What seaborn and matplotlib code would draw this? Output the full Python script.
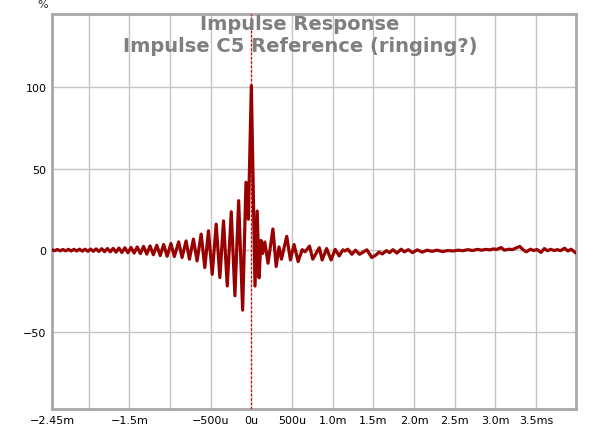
import numpy as np
import pandas as pd
import matplotlib
matplotlib.use('Agg')
import matplotlib.pyplot as plt
import seaborn as sns

# peaks / troughs (time in ms, level in %)
pre_time = [-2.450, -2.418, -2.384, -2.350, -2.316, -2.282, -2.248, -2.214, -2.180, -2.146,
            -2.112, -2.078, -2.044, -2.010, -1.976, -1.942, -1.908, -1.874, -1.839, -1.804,
            -1.769, -1.734, -1.699, -1.663, -1.627, -1.591, -1.554, -1.517, -1.479, -1.441,
            -1.403, -1.364, -1.325, -1.285, -1.245, -1.204, -1.162, -1.120, -1.078, -1.035,
            -0.988, -0.947, -0.893, -0.852, -0.802, -0.761, -0.712, -0.667, -0.617, -0.572,
            -0.527, -0.481, -0.432, -0.387, -0.342, -0.296, -0.247, -0.202, -0.156, -0.107,
            -0.066, -0.037]
pre_level = [0.2, -0.3, 0.4, -0.4, 0.4, -0.4, 0.5, -0.5, 0.5, -0.5,
             0.6, -0.6, 0.6, -0.7, 0.7, -0.7, 0.8, -0.8, 0.9, -0.9,
             1.0, -1.0, 1.1, -1.2, 1.3, -1.4, 1.5, -1.6, 1.7, -1.8,
             2.0, -2.1, 2.3, -2.4, 2.6, -2.8, 3.0, -3.3, 3.5, -3.7,
             4.1, -3.9, 5.1, -4.5, 5.7, -5.5, 6.8, -6.6, 9.9, -10.7,
             11.9, -14.8, 16.0, -16.8, 18.0, -22.0, 23.6, -28.0, 30.4, -36.8,
             41.7, 19.0]

peak_time = [0.0]
peak_level = [101.0]

post_time = [0.045, 0.072, 0.095, 0.118, 0.138, 0.165, 0.205, 0.265, 0.305, 0.340,
             0.370, 0.435, 0.480, 0.525, 0.575, 0.625, 0.660, 0.715, 0.755, 0.835,
             0.870, 0.925, 0.980, 1.030, 1.080, 1.125, 1.150, 1.185, 1.235, 1.280,
             1.330, 1.420, 1.480, 1.530, 1.570, 1.610, 1.660, 1.700, 1.740, 1.790,
             1.840, 1.880, 1.930, 1.980, 2.040, 2.100, 2.160, 2.220, 2.280, 2.350,
             2.420, 2.480, 2.540, 2.600, 2.660, 2.720, 2.780, 2.830, 2.880, 2.930,
             2.980, 3.010, 3.070, 3.110, 3.160, 3.210, 3.300, 3.340, 3.380, 3.430,
             3.470, 3.510, 3.560, 3.600, 3.640, 3.680, 3.720, 3.760, 3.800, 3.850,
             3.890, 3.930, 3.990]
post_level = [-22.0, 24.0, -17.0, 6.0, -2.0, 5.0, -8.0, 13.0, -10.0, 2.0,
              -5.5, 8.5, -6.0, 3.5, -7.0, 0.3, -1.0, 2.5, -5.5, 1.5,
              -6.0, 1.0, -6.0, 0.5, -3.5, 0.2, -0.5, 0.6, -2.5, 0.0,
              -2.5, 0.2, -4.5, -3.0, -1.2, -2.3, -0.3, -1.5, 0.3, -1.8,
              0.6, -1.0, 0.3, -1.5, 0.2, -1.2, 0.0, -0.7, 0.0, -0.8,
              -0.2, -0.5, 0.0, -0.3, 0.3, -0.2, 0.5, 0.0, 0.5, 0.2,
              0.8, 0.4, 1.6, 0.0, 0.6, 0.4, 2.3, 0.2, -1.0, 0.6,
              -0.2, 0.4, -1.4, 1.0, -0.3, 0.5, -0.2, 0.3, -0.3, 1.2,
              -0.5, 0.6, -1.8]

xtick_pos = [-2.45, -2.0, -1.5, -1.0, -0.5, 0.0, 0.5, 1.0, 1.5, 2.0, 2.5, 3.0, 3.5]
xtick_lab = ['\u22122.45m', '', '\u22121.5m', '', '\u2212500u', '0u', '500u',
             '1.0m', '1.5m', '2.0m', '2.5m', '3.0m', '3.5ms']
ytick_pos = [-50, 0, 50, 100]
ytick_lab = ['\u221250', '0', '50', '100']

df = pd.DataFrame({'time': pre_time + peak_time + post_time,
                   'level': pre_level + peak_level + post_level})

sns.set_style('white')
plt.rcParams['font.family'] = ['DejaVu Sans']

fig = plt.figure(figsize=(6, 4.27), dpi=100)
ax = fig.add_axes([52 / 600, 1 - 410 / 427, 524 / 600, 395 / 427])

ax.grid(True, color='#c4c4c4', linewidth=1)
ax.set_axisbelow(True)
ax.axvline(0, color='#e00000', linewidth=0.9, linestyle=(0, (2, 1.5)), zorder=3)
sns.lineplot(data=df, x='time', y='level', ax=ax, color='#990000', linewidth=2.3,
             sort=False, zorder=4)
for ln in ax.lines[1:]:
    ln.set_solid_joinstyle('round')
    ln.set_solid_capstyle('round')

ax.set_xlim(-2.45, 3.99)
ax.set_ylim(-97.5, 145)
ax.set_xticks(xtick_pos)
ax.set_xticklabels(xtick_lab)
ax.set_yticks(ytick_pos)
ax.set_yticklabels(ytick_lab)
ax.tick_params(length=0, labelsize=8, pad=4, colors='black')
ax.set_xlabel('')
ax.set_ylabel('')
for s in ax.spines.values():
    s.set_color('#a8a8a8')
    s.set_linewidth(2)

fig.text(43 / 600, 1 - 5 / 427, '%', fontsize=8, ha='center', va='center')
fig.text(0.5, 1 - 24 / 427, 'Impulse Response', fontsize=14, fontweight='bold',
         color='#7f7f7f', ha='center', va='center')
fig.text(0.5, 1 - 47 / 427, 'Impulse C5 Reference (ringing?)', fontsize=14,
         fontweight='bold', color='#7f7f7f', ha='center', va='center')

fig.savefig('out.png', dpi=100)
